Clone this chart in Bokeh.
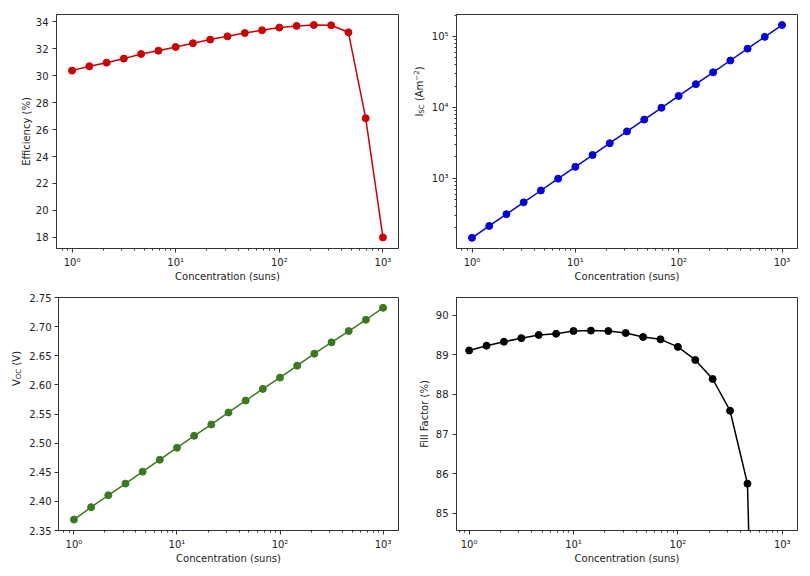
import math
from bokeh.plotting import figure
from bokeh.layouts import row, column
from bokeh.models import Range1d, FixedTicker, Label, NumeralTickFormatter
from bokeh.embed import file_html
from bokeh.resources import INLINE

# ---- data ----
concentration = [1.0, 1.468, 2.154, 3.162, 4.642, 6.813, 10.0, 14.68, 21.54, 31.62,
                 46.42, 68.13, 100.0, 146.8, 215.4, 316.2, 464.2, 681.3, 1000.0]
efficiency = [30.37, 30.69, 30.96, 31.26, 31.60, 31.85, 32.12, 32.40, 32.67, 32.91,
              33.16, 33.36, 33.56, 33.68, 33.75, 33.73, 33.21, 26.84, 18.00]
isc = [145, 213, 312, 458, 673, 988, 1450, 2128, 3123, 4584,
       6729, 9877, 14500, 21280, 31230, 45840, 67290, 98770, 145000]
voc = [2.3688, 2.3900, 2.4105, 2.4305, 2.4510, 2.4715, 2.4921, 2.5126, 2.5320, 2.5526,
       2.5731, 2.5931, 2.6125, 2.6330, 2.6536, 2.6730, 2.6924, 2.7118, 2.7323]
fill_factor = [89.11, 89.23, 89.33, 89.42, 89.50, 89.53, 89.60, 89.61, 89.60, 89.55,
               89.45, 89.39, 89.20, 88.87, 88.39, 87.59, 85.75, 68.8, 45.8]

x_major = [1, 10, 100, 1000]
x_major_labels = ["10\u2070", "10\u00b9", "10\u00b2", "10\u00b3"]
isc_major = [1000, 10000, 100000]
isc_major_labels = ["10\u00b3", "10\u2074", "10\u2075"]
eff_ticks = [18, 20, 22, 24, 26, 28, 30, 32, 34]
voc_ticks = [2.35, 2.40, 2.45, 2.50, 2.55, 2.60, 2.65, 2.70, 2.75]
ff_ticks = [85, 86, 87, 88, 89, 90]

TEXT = "#222222"
FONT = "DejaVu Sans"

CHAR_W = {"I": 0.295, "S": 0.635, "C": 0.698, "O": 0.787, " ": 0.318, "(": 0.39,
          ")": 0.39, "A": 0.684, "m": 0.974, "\u2212": 0.838, "2": 0.636, "V": 0.684}


def minor_log(lo_exp, hi_exp):
    out = []
    for e in range(lo_exp, hi_exp + 1):
        for m in range(2, 10):
            out.append(m * 10 ** e)
    return out


def make_fig(width, y_type, bl, br, bt, bb, xr, yr):
    p = figure(width=width, height=288, x_axis_type="log", y_axis_type=y_type,
               output_backend="svg", toolbar_location=None,
               min_border_left=bl, min_border_right=br,
               min_border_top=bt, min_border_bottom=bb,
               x_range=Range1d(*xr), y_range=Range1d(*yr))
    p.grid.visible = False
    p.outline_line_color = "#333333"
    p.outline_line_width = 1
    p.background_fill_color = "white"
    p.border_fill_color = "white"
    for ax in (p.xaxis[0], p.yaxis[0]):
        ax.axis_line_color = "#333333"
        ax.major_tick_line_color = "#333333"
        ax.minor_tick_line_color = "#333333"
        ax.major_tick_in = 0
        ax.major_tick_out = 4
        ax.minor_tick_in = 0
        ax.minor_tick_out = 2
        ax.major_label_text_font = FONT
        ax.major_label_text_font_size = "10px"
        ax.major_label_text_color = TEXT
        ax.axis_label_text_font = FONT
        ax.axis_label_text_font_size = "10px"
        ax.axis_label_text_font_style = "normal"
        ax.axis_label_text_color = TEXT
        ax.major_label_standoff = 4
    p.xaxis.ticker = FixedTicker(ticks=x_major, minor_ticks=minor_log(-1, 3))
    p.xaxis.major_label_overrides = dict(zip(x_major, x_major_labels))
    p.xaxis.axis_label = "Concentration (suns)"
    p.xaxis.axis_label_standoff = 0
    return p


def add_line(p, ys, color):
    p.line(concentration, ys, line_color=color, line_width=1.5)
    p.scatter(concentration, ys, size=7, fill_color=color, line_color=color)


def label_strip(width, center_from_bottom, x, parts):
    # narrow figure holding a rotated y-axis title built from pieces
    f = figure(width=width, height=288, output_backend="svg", toolbar_location=None,
               x_axis_location=None, y_axis_location=None,
               min_border_left=0, min_border_right=0, min_border_top=0, min_border_bottom=0,
               x_range=Range1d(0, 1), y_range=Range1d(0, 1))
    f.grid.visible = False
    f.outline_line_color = None
    f.background_fill_color = "white"
    f.border_fill_color = "white"
    widths = [sum(CHAR_W.get(c, 0.6) for c in text) * size for text, size, _ in parts]
    total = sum(widths)
    y = center_from_bottom - total / 2
    for (text, size, shift), w in zip(parts, widths):
        lead = (len(text) - len(text.lstrip())) * CHAR_W[" "] * size
        f.add_layout(Label(x=x + shift, y=y + lead, x_units="screen", y_units="screen",
                           text=text.lstrip(), angle=math.pi / 2, text_align="left",
                           text_baseline="alphabetic", text_font=FONT,
                           text_font_size=f"{size}px", text_color=TEXT))
        y += w
    return f


xr_std = (10 ** -0.15, 10 ** 3.15)

# top-left: efficiency
p1 = make_fig(405, "linear", 56, 7, 14, 40, xr_std, (17.18, 34.53))
add_line(p1, efficiency, "#cc0000")
p1.yaxis.ticker = FixedTicker(ticks=eff_ticks)
p1.yaxis.axis_label = "Efficiency (%)"
p1.yaxis.axis_label_standoff = 1

# top-right: Isc
lab2 = label_strip(23, 157, 14, [("I", 10, 0), ("SC", 7, 2), (" (Am", 10, 0),
                                 ("\u22122", 7, -4), (")", 10, 0)])
p2 = make_fig(382, "log", 28, 13, 14, 40, xr_std, (10 ** 2.01, 10 ** 5.31))
add_line(p2, isc, "#0000dd")
p2.yaxis.ticker = FixedTicker(ticks=isc_major, minor_ticks=minor_log(2, 5))
p2.yaxis.major_label_overrides = dict(zip(isc_major, isc_major_labels))

# bottom-left: Voc
lab3 = label_strip(26, 162, 16, [("V", 10, 0), ("OC", 7, 2), (" (V)", 10, 0)])
p3 = make_fig(379, "linear", 30, 7, 9, 45, xr_std, (2.35, 2.75))
add_line(p3, voc, "#3a7a1e")
p3.yaxis.ticker = FixedTicker(ticks=voc_ticks)
p3.yaxis.formatter = NumeralTickFormatter(format="0.00")
p3.yaxis.major_label_standoff = 3

# bottom-right: fill factor
p4 = make_fig(405, "linear", 51, 13, 9, 46, (10 ** -0.121, 10 ** 3.146), (84.57, 90.445))
add_line(p4, fill_factor, "#000000")
p4.yaxis.ticker = FixedTicker(ticks=ff_ticks)
p4.yaxis.axis_label = "Fill Factor (%)"
p4.yaxis.axis_label_standoff = 3

layout = column(row(p1, lab2, p2, spacing=0), row(lab3, p3, p4, spacing=0), spacing=0)

open("out.html", "w").write(file_html(layout, INLINE))
